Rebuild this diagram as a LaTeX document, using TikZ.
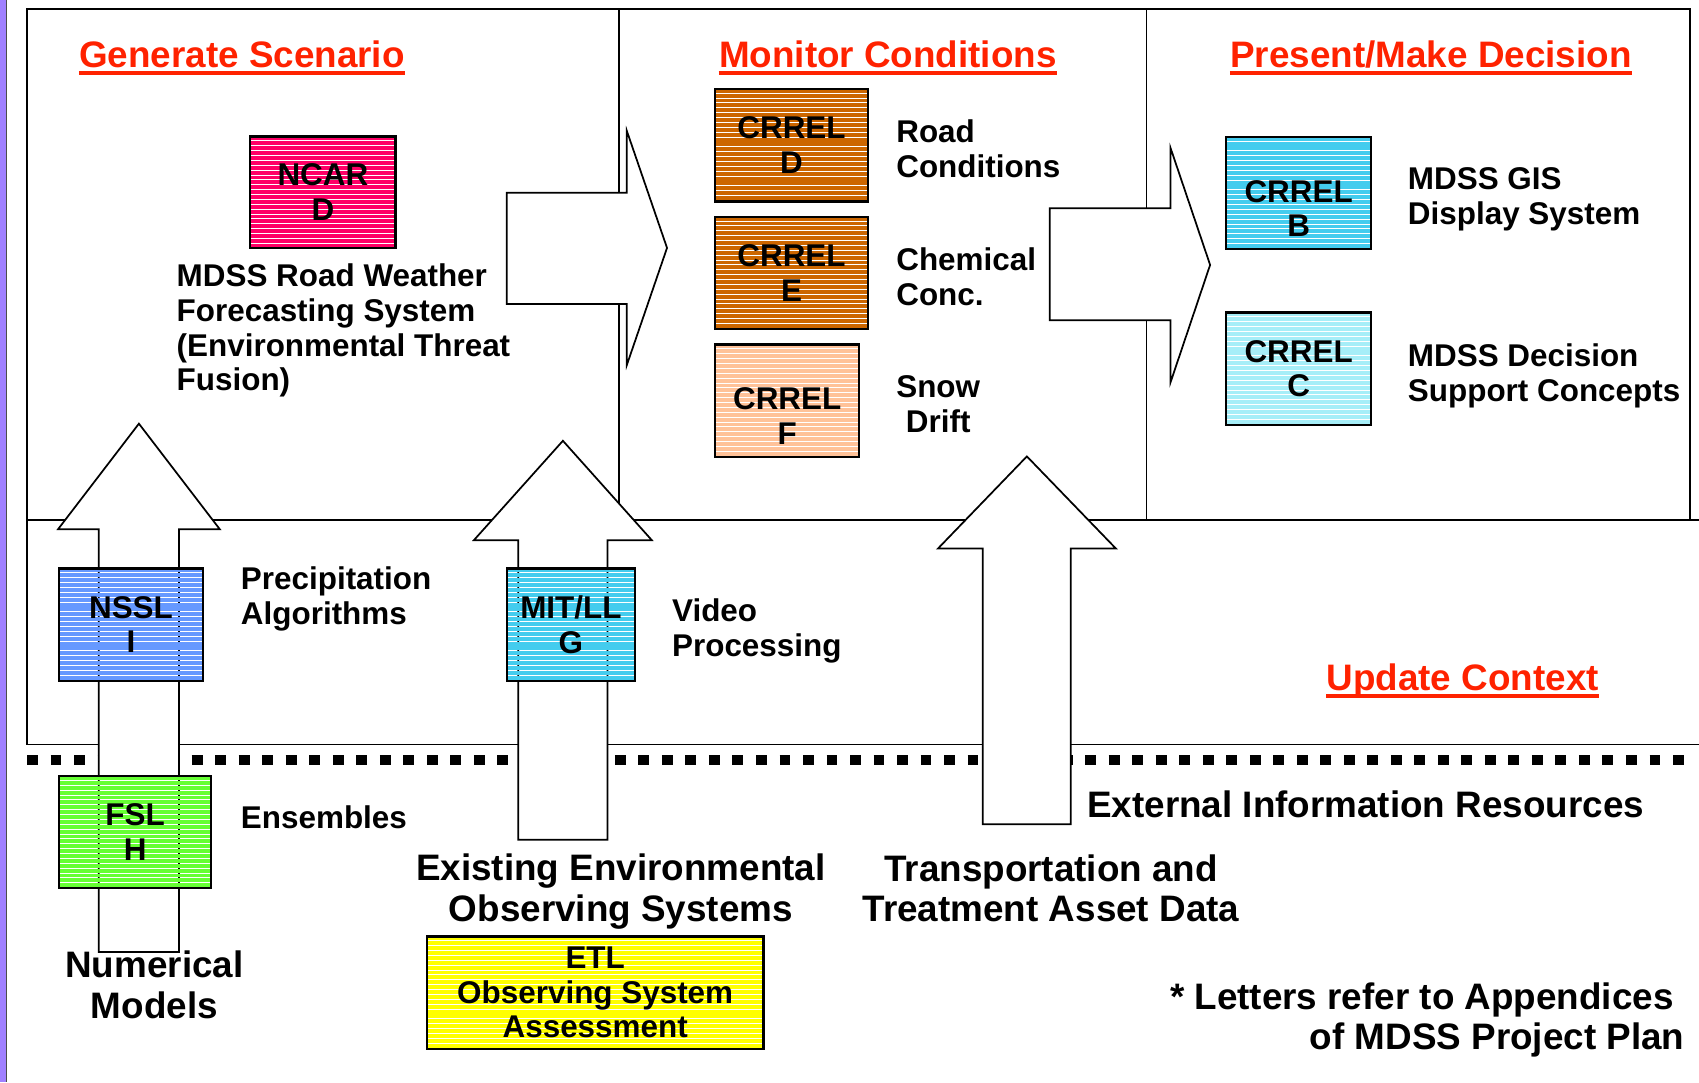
\documentclass[tikz,border=0pt]{standalone}
\usepackage{fontspec}
\setmainfont{Liberation Sans}
\usepackage{tikz}

\definecolor{titlered}{HTML}{FF2200}
\definecolor{barpurple}{HTML}{A080FF}
\definecolor{ncarpink}{HTML}{FF0066}
\definecolor{crrelbrown}{HTML}{CC6600}
\definecolor{crrelpeach}{HTML}{FFC299}
\definecolor{crrelcyan}{HTML}{44CCEE}
\definecolor{crrellight}{HTML}{A6EEF8}
\definecolor{nsslblue}{HTML}{6699FF}
\definecolor{fslgreen}{HTML}{66FF33}
\definecolor{etlyellow}{HTML}{FFFF00}

\tikzset{
  stripebox/.style = {draw, line width = 1pt, inner sep = 0pt, align = center, font = \fontsize{14.5}{16}\selectfont\bfseries,
    path picture = {\foreach \k in {0,...,24} \draw[#1, line width = 1.8pt] ([yshift = {-(\k*2.25+0.9)*1pt}]path picture bounding box.north west) -- ([yshift = {-(\k*2.25+0.9)*1pt}]path picture bounding box.north east);}},
  blockarrow/.style = {draw, fill = white, line width = 0.8pt, line join = miter},
  frameline/.style = {line width = 0.8pt},
  headline/.style = {text = titlered, inner sep = 0pt, anchor = base west, font = \fontsize{17}{19}\selectfont\bfseries},
  bodytext/.style = {inner sep = 0pt, align = left, anchor = base west, font = \fontsize{14.5}{16}\selectfont\bfseries},
  bigtext/.style = {inner sep = 0pt, align = center, anchor = base, font = \fontsize{17}{18.75}\selectfont\bfseries}
}

\begin{document}
\begin{tikzpicture}[x = 0.5pt, y = -0.5pt]
\useasboundingbox (0,0) rectangle (1568,999);
\fill[barpurple] (0,0) rectangle (5.3,999);
\draw[gray!60!black, line width = 0.6pt] (5.9,0) -- (5.9,999);

\draw[frameline] (25,8) rectangle (1560,480);
\draw[frameline] (571,8) -- (571,480);
\draw[frameline] (1058,8) -- (1058,480);
\draw[frameline] (1568,480) -- (25,480) -- (25,687) -- (1568,687);
\draw[line width = 5pt, dash pattern = on 5pt off 5.85pt] (25,701.4) -- (1562,701.4);

\draw[blockarrow] (467.6,178) -- (578.5,178) -- (578.5,120.8) -- (615.6,228.8) -- (578.5,336.9) -- (578.5,280.6) -- (467.6,280.6) -- cycle;
\draw[blockarrow] (968.8,192.3) -- (1080.3,192.3) -- (1080.3,136.6) -- (1116.8,244.5) -- (1080.3,352.8) -- (1080.3,295.6) -- (968.8,295.6) -- cycle;
\draw[blockarrow] (91.1,878.6) -- (91.1,488.4) -- (53.6,488.4) -- (128.2,391) -- (202.8,488.4) -- (165.3,488.4) -- (165.3,878.6) -- cycle;
\draw[blockarrow] (478.3,774.9) -- (478.3,498.5) -- (437.4,498.5) -- (519.5,406.8) -- (601.5,498.5) -- (560.6,498.5) -- (560.6,774.9) -- cycle;
\draw[blockarrow] (907,760.7) -- (907,506.3) -- (865.6,506.3) -- (947.7,421.2) -- (1029.9,506.3) -- (988.2,506.3) -- (988.2,760.7) -- cycle;

\node[stripebox = ncarpink, minimum width = 67pt, minimum height = 51.5pt] (ncar) at (298,177.5) {NCAR\\D};
\node[stripebox = crrelbrown, minimum width = 70.5pt, minimum height = 52pt] (crrelD) at (730.5,134) {CRREL\\D};
\node[stripebox = crrelbrown, minimum width = 70.5pt, minimum height = 51.75pt] (crrelE) at (730.5,251.75) {CRREL\\E};
\node[stripebox = crrelpeach, minimum width = 66.5pt, minimum height = 52pt] (crrelF) at (726.5,370) {};
\node[bodytext, align = center, anchor = center] (crrelFtext) at ([yshift = -7pt]crrelF.center) {CRREL\\F};
\node[stripebox = crrelcyan, minimum width = 67pt, minimum height = 51.8pt] (crrelB) at (1198.5,178) {};
\node[bodytext, align = center, anchor = center] (crrelBtext) at ([yshift = -7.3pt]crrelB.center) {CRREL\\B};
\node[stripebox = crrellight, minimum width = 67pt, minimum height = 52pt] (crrelC) at (1198.5,340.4) {CRREL\\C};
\node[stripebox = nsslblue, minimum width = 66.6pt, minimum height = 51.85pt] (nssl) at (120.9,576.5) {NSSL\\I};
\node[stripebox = crrelcyan, minimum width = 59.3pt, minimum height = 51.85pt] (mitll) at (526.9,576.5) {MIT/LL\\G};
\node[stripebox = fslgreen, minimum width = 70.4pt, minimum height = 51.7pt] (fsl) at (124.7,767.9) {FSL\\H};
\node[stripebox = etlyellow, minimum width = 155.25pt, minimum height = 51.85pt] (etl) at (549.3,916.1) {ETL\\Observing System\\Assessment};

\node[headline] (gen) at (72.7,62) {Generate Scenario};
\node[headline] (mon) at (663.2,62) {Monitor Conditions};
\node[headline] (pres) at (1135.1,62) {Present/Make Decision};
\node[headline] (upd) at (1223.9,636.8) {Update Context};
\draw[titlered, line width = 1.9pt] ([yshift = -2.6pt]gen.base west) -- ([yshift = -2.6pt]gen.base east);
\draw[titlered, line width = 1.9pt] ([yshift = -2.6pt]mon.base west) -- ([yshift = -2.6pt]mon.base east);
\draw[titlered, line width = 1.9pt] ([yshift = -2.6pt]pres.base west) -- ([yshift = -2.6pt]pres.base east);
\draw[titlered, line width = 1.9pt] ([yshift = -2.8pt]upd.base west) -- ([yshift = -2.8pt]upd.base east);

\node[bodytext] (forecast) at (162.7,360.7) {MDSS Road Weather\\Forecasting System\\(Environmental Threat\\Fusion)};
\node[bodytext] (roadcond) at (826.8,163.7) {Road\\Conditions};
\node[bodytext] (chemconc) at (826.8,281.9) {Chemical\\Conc.};
\node[bodytext, align = center] (snowdrift) at (826.8,398.9) {Snow\\Drift};
\node[bodytext] (gisdisplay) at (1299,207.2) {MDSS GIS\\Display System};
\node[bodytext] (decision) at (1299,370.3) {MDSS Decision\\Support Concepts};
\node[bodytext] (precip) at (222,576) {Precipitation\\Algorithms};
\node[bodytext] (ensembles) at (222,764.9) {Ensembles};
\node[bodytext] (video) at (619.9,605.5) {Video\\Processing};

\node[bigtext] (nummodels) at (142.5,939.9) {Numerical\\Models};
\node[bigtext] (observing) at (573,850.4) {Existing Environmental\\Observing Systems};
\node[bigtext] (assetdata) at (970,850.8) {Transportation and\\Treatment Asset Data};
\node[bigtext, anchor = base west] (external) at (1003,754.2) {External Information Resources};
\node[bigtext, align = right, anchor = base east] (note) at (1555,969) {* Letters refer to Appendices\hspace*{5pt}\\of MDSS Project Plan};
\end{tikzpicture}
\end{document}
